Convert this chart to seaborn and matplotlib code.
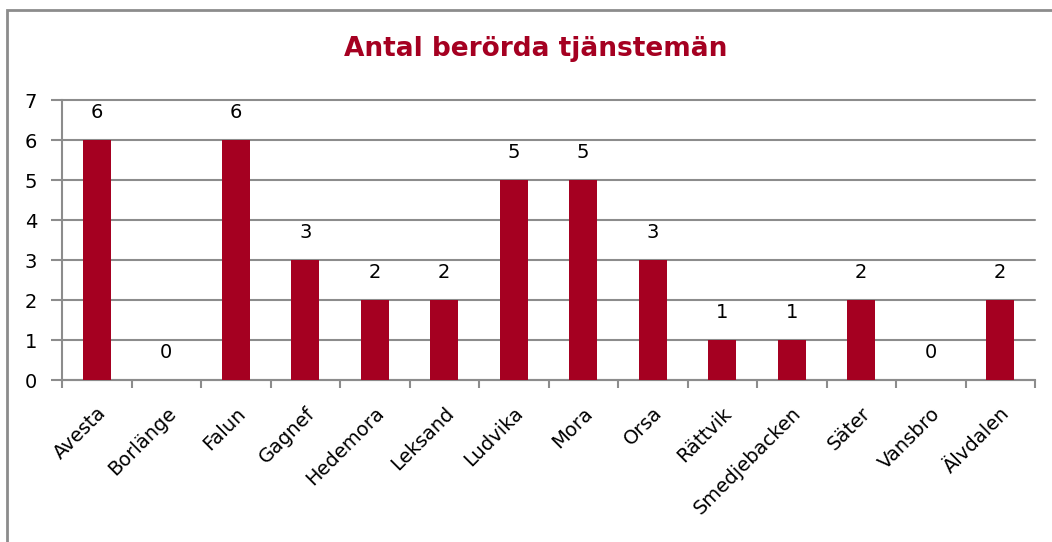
import matplotlib

matplotlib.use("Agg")
import matplotlib.pyplot as plt
import matplotlib.transforms as mtransforms
import numpy as np
import pandas as pd
import seaborn as sns
from matplotlib.patches import Rectangle


KOMMUNER = ["Avesta", "Borlänge", "Falun", "Gagnef", "Hedemora", "Leksand", "Ludvika",
            "Mora", "Orsa", "Rättvik", "Smedjebacken", "Säter", "Vansbro", "Älvdalen"]
ANTAL = [6, 0, 6, 3, 2, 2, 5, 5, 3, 1, 1, 2, 0, 2]
Y_TICKS = [0, 1, 2, 3, 4, 5, 6, 7]
TITLE = "Antal berörda tjänstemän"

BAR_COLOR = "#A50021"
GRID_COLOR = "#8C8C8C"


def main():
    sns.set_theme(style="white")
    plt.rcParams["font.family"] = ["DejaVu Sans"]

    df = pd.DataFrame({"kommun": KOMMUNER, "antal": ANTAL})

    fig = plt.figure(figsize=(10.52, 5.42), dpi=100, facecolor="white")
    ax = fig.add_axes([62 / 1052, 1 - 380 / 542, (1035 - 62) / 1052, (380 - 100) / 542])

    sns.barplot(data=df, x="kommun", y="antal", color=BAR_COLOR, width=0.4,
                saturation=1, linewidth=0, ax=ax, zorder=3)
    ax.bar_label(ax.containers[0], padding=13, fontsize=14, color="black")

    ax.set_xlim(-0.5, len(KOMMUNER) - 0.5)
    ax.set_ylim(0, 7)
    ax.set_yticks(Y_TICKS)
    ax.set_yticklabels([str(t) for t in Y_TICKS], fontsize=14, color="black")
    ax.yaxis.grid(True, color=GRID_COLOR, linewidth=1.5, zorder=0)
    for gl in ax.get_ygridlines():
        gl.set_clip_on(False)
    ax.set_axisbelow(True)
    ax.set_xlabel("")
    ax.set_ylabel("")

    ax.set_xticks(np.arange(len(KOMMUNER)))
    ax.set_xticklabels(KOMMUNER, rotation=45, ha="right", rotation_mode="anchor",
                       fontsize=14, color="black")
    shift = mtransforms.ScaledTranslation(-5 / 100, 0, fig.dpi_scale_trans)
    for lab in ax.get_xticklabels():
        lab.set_transform(lab.get_transform() + shift)
    ax.set_xticks(np.arange(len(KOMMUNER) + 1) - 0.5, minor=True)
    ax.tick_params(axis="x", which="major", length=0, pad=17)
    ax.tick_params(axis="x", which="minor", bottom=True, length=6, width=1.5,
                   color=GRID_COLOR, direction="out")
    ax.tick_params(axis="y", length=8, width=1.5, color=GRID_COLOR, direction="out",
                   pad=10, left=True)

    for side in ["top", "right"]:
        ax.spines[side].set_visible(False)
    for side in ["left", "bottom"]:
        ax.spines[side].set_color(GRID_COLOR)
        ax.spines[side].set_linewidth(1.5)

    fig.text(536 / 1052, 1 - 49 / 542, TITLE, ha="center", va="center",
             fontsize=19, fontweight="bold", color=BAR_COLOR)

    fig.patches.append(Rectangle((7 / 1052, -0.05), 1.1, 0.05 + 532 / 542,
                                 transform=fig.transFigure, fill=False,
                                 edgecolor=GRID_COLOR, linewidth=2, zorder=0))

    fig.savefig("out.png", dpi=100, facecolor="white")
    plt.close(fig)


if __name__ == "__main__":
    main()
